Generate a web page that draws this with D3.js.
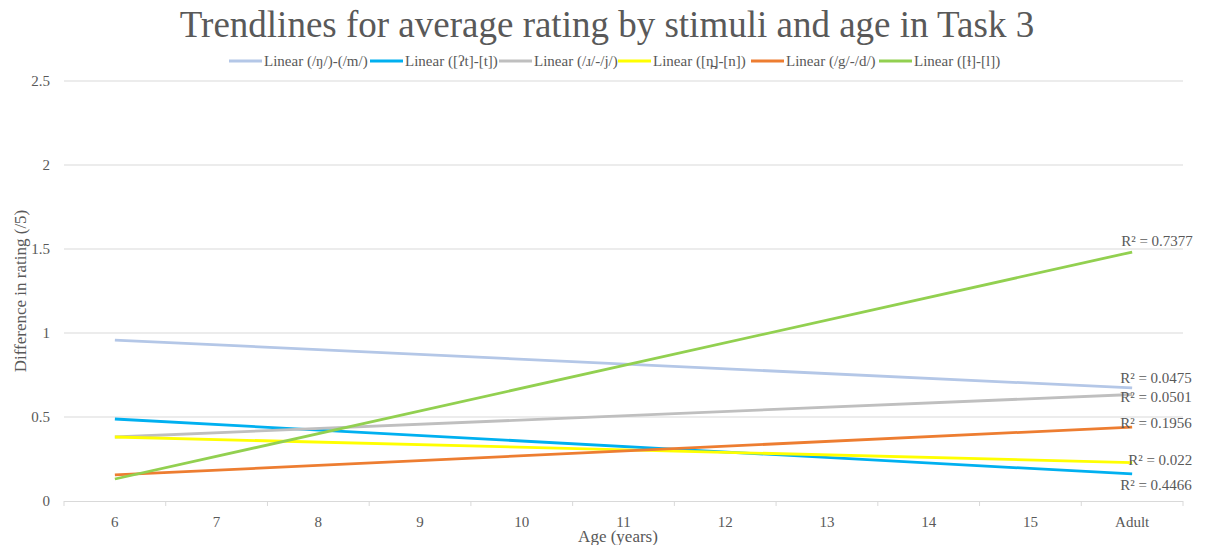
<!DOCTYPE html>
<html>
<head>
<meta charset="utf-8">
<script src="https://cdn.jsdelivr.net/npm/d3@7"></script>
<style>
  html, body { margin: 0; padding: 0; background: #ffffff; }
  svg { display: block; }
  text { font-family: "Liberation Serif", "Times New Roman", serif; fill: #595959; }
</style>
</head>
<body>
<svg id="chart" width="1208" height="545"></svg>
<script>
// Age categories on the x axis
const categories = ["6", "7", "8", "9", "10", "11", "12", "13", "14", "15", "Adult"];
// Linear trendline series: label, value at first category, value at last category
const seriesNames = ["Linear (/ŋ/)-(/m/)", "Linear ([ʔt]-[t])", "Linear (/ɹ/-/j/)", "Linear ([n̪]-[n])", "Linear (/g/-/d/)", "Linear ([ɫ]-[l])"];
const startValues = [0.958, 0.488, 0.381, 0.381, 0.155, 0.131];
const endValues   = [0.673, 0.161, 0.634, 0.229, 0.440, 1.482];
const r2Labels    = ["R² = 0.0475", "R² = 0.4466", "R² = 0.0501", "R² = 0.022", "R² = 0.1956", "R² = 0.7377"];
const colors      = ["#b4c7e7", "#00b0f0", "#bfbfbf", "#ffff00", "#ed7d31", "#92d050"];
const yTicks      = [0, 0.5, 1, 1.5, 2, 2.5];

const svg = d3.select("#chart");
const margin = { left: 64, right: 1183, top: 81, bottom: 501 };

const x = d3.scaleBand().domain(categories).range([margin.left, margin.right]);
const y = d3.scaleLinear().domain([0, 2.5]).range([margin.bottom, margin.top]);

// Horizontal gridlines
svg.append("g").selectAll("line").data(yTicks.filter(d => d > 0)).join("line")
  .attr("x1", margin.left).attr("x2", margin.right)
  .attr("y1", d => y(d)).attr("y2", d => y(d))
  .attr("stroke", "#d9d9d9").attr("stroke-width", 1);

// Y axis labels
const yAxis = d3.axisLeft(y).tickValues(yTicks).tickSize(0).tickPadding(14)
  .tickFormat(d => String(d));
const gy = svg.append("g").attr("transform", `translate(${margin.left},0)`).call(yAxis);
gy.select(".domain").remove();
gy.selectAll("text").attr("font-size", 15).attr("font-family", "Liberation Serif").attr("fill", "#595959");

// X axis with tick marks between categories
const gx = svg.append("g").attr("transform", `translate(0,${margin.bottom})`);
gx.append("line").attr("x1", margin.left).attr("x2", margin.right)
  .attr("y1", 0.5).attr("y2", 0.5).attr("stroke", "#d9d9d9").attr("stroke-width", 1);
const boundaries = categories.map(c => x(c)).concat([margin.right]);
gx.selectAll("line.tick").data(boundaries).join("line").attr("class", "tick")
  .attr("x1", d => d).attr("x2", d => d).attr("y1", 0).attr("y2", 5)
  .attr("stroke", "#d9d9d9").attr("stroke-width", 1);
gx.selectAll("text.cat").data(categories).join("text").attr("class", "cat")
  .attr("x", d => x(d) + x.bandwidth() / 2).attr("y", 26)
  .attr("text-anchor", "middle").attr("font-size", 15).text(d => d);

// Trendlines from first to last category
const first = categories[0], last = categories[categories.length - 1];
const cx = c => x(c) + x.bandwidth() / 2;
const line = d3.line().x(d => cx(d[0])).y(d => y(d[1]));
svg.append("g").selectAll("path").data(seriesNames.map((n, i) => i)).join("path")
  .attr("d", i => line([[first, startValues[i]], [last, endValues[i]]]))
  .attr("fill", "none").attr("stroke", i => colors[i]).attr("stroke-width", 2.8)
  .attr("stroke-linecap", "butt");

// R² labels near the line ends
const r2Pos = [
  { dx: -12, dy: -5 },
  { dx: -12, dy: 16 },
  { dx: -12, dy: 8 },
  { dx: -4, dy: 2 },
  { dx: -12, dy: 1 },
  { dx: -11, dy: -6 }
];
svg.append("g").selectAll("text").data(r2Labels).join("text")
  .attr("x", (d, i) => cx(last) + r2Pos[i].dx)
  .attr("y", (d, i) => y(endValues[i]) + r2Pos[i].dy)
  .attr("font-size", 15).attr("text-anchor", "start")
  .text(d => d);

// Title
svg.append("text").attr("x", 607).attr("y", 37).attr("text-anchor", "middle")
  .attr("font-size", 37).text("Trendlines for average rating by stimuli and age in Task 3");

// Legend
const legendX = [229, 370, 499, 618, 751, 879];
const lg = svg.append("g").selectAll("g").data(seriesNames).join("g")
  .attr("transform", (d, i) => `translate(${legendX[i]},61)`);
lg.append("line").attr("x1", 0).attr("x2", 33).attr("y1", 0).attr("y2", 0)
  .attr("stroke", (d, i) => colors[i]).attr("stroke-width", 3);
lg.append("text").attr("x", 35).attr("y", 5).attr("font-size", 15).text(d => d);

// Axis titles
svg.append("text").attr("x", 618).attr("y", 542).attr("text-anchor", "middle")
  .attr("font-size", 17).text("Age (years)");
svg.append("text").attr("transform", "translate(26,291) rotate(-90)")
  .attr("text-anchor", "middle").attr("font-size", 17).text("Difference in rating (/5)");
</script>
</body>
</html>
